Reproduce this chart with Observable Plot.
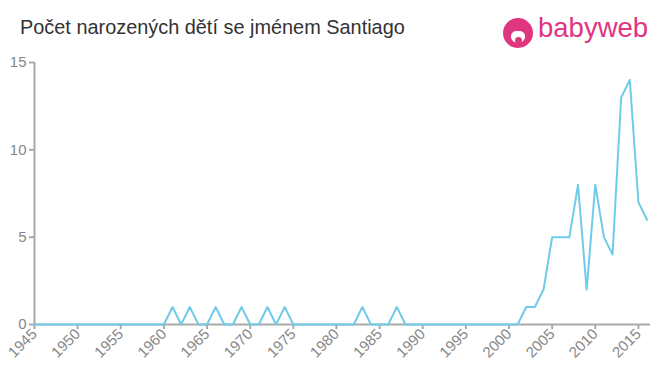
<!DOCTYPE html>
<html>
<head>
<meta charset="utf-8">
<script src="https://cdn.jsdelivr.net/npm/d3@7"></script>
<script src="https://cdn.jsdelivr.net/npm/@observablehq/plot@0.6"></script>
<style>
  html, body { margin: 0; padding: 0; background: #fff; }
  body { width: 660px; height: 375px; overflow: hidden; font-family: "Liberation Sans", Arial, sans-serif; }
  #header { position: relative; height: 50px; }
  #title { position: absolute; left: 20px; top: 16px; font-size: 19.9px; color: #333; white-space: nowrap; }
  #logo { position: absolute; left: 503px; top: 18px; height: 31px; }
  #logo .circle { position: absolute; left: 0; top: 0; width: 30px; height: 30px; border-radius: 50%; background: #e0357f; }
  #logo .face { position: absolute; left: 8px; top: 13px; width: 14px; height: 12px; background: #fff; border-radius: 40% 40% 50% 50%; }
  #logo .mouth { position: absolute; left: 11.5px; top: 19px; width: 7px; height: 7px; background: #e0357f; border-radius: 50%; }
  #logo .txt { position: absolute; left: 35px; top: -6px; font-size: 27.5px; color: #e0357f; white-space: nowrap; }
  #chart svg text { font-size: 15px; }
</style>
</head>
<body>
<div id="header">
  <div id="title">Počet narozených dětí se jménem Santiago</div>
  <div id="logo"><div class="circle"></div><div class="face"></div><div class="mouth"></div><span class="txt">babyweb</span></div>
</div>
<div id="chart"></div>
<script>
const years = d3.range(1945, 2017);
const counts = [
  0,0,0,0,0, 0,0,0,0,0,   // 1945-1954
  0,0,0,0,0, 0,1,0,1,0,   // 1955-1964
  0,1,0,0,1, 0,0,1,0,1,   // 1965-1974
  0,0,0,0,0, 0,0,0,1,0,   // 1975-1984
  0,0,1,0,0, 0,0,0,0,0,   // 1985-1994
  0,0,0,0,0, 0,0,1,1,2,   // 1995-2004
  5,5,5,8,2, 8,5,4,13,14, // 2005-2014
  7,6                     // 2015-2016
];
const xTicks = d3.range(1945, 2016, 5);
const yTicks = [0, 5, 10, 15];

const data = years.map((y, i) => ({year: y, count: counts[i]}));

const chart = Plot.plot({
  width: 660,
  height: 325,
  marginLeft: 34,
  marginRight: 10,
  marginTop: 12,
  marginBottom: 51,
  style: {fontFamily: "'Liberation Sans', Arial, sans-serif", fontSize: "15px", color: "#888", background: "#fff"},
  x: {domain: [1945, 2016.4]},
  y: {domain: [0, 15]},
  marks: [
    Plot.axisY({ticks: yTicks, tickSize: 5, tickPadding: 3, stroke: "#aaa", strokeWidth: 2, strokeOpacity: 1, fill: "#888", label: null}),
    Plot.axisX({ticks: xTicks, tickSize: 5, tickPadding: 2, tickRotate: -45, stroke: "#aaa", strokeWidth: 2, strokeOpacity: 1, fill: "#888", label: null, tickFormat: d => String(d)}),
    Plot.ruleX([1945], {stroke: "#aaa", strokeWidth: 2}),
    Plot.ruleY([0], {stroke: "#aaa", strokeWidth: 2}),
    Plot.line(data, {x: "year", y: "count", stroke: "#70cbe9", strokeWidth: 2})
  ]
});
document.getElementById("chart").appendChild(chart);
</script>
</body>
</html>
